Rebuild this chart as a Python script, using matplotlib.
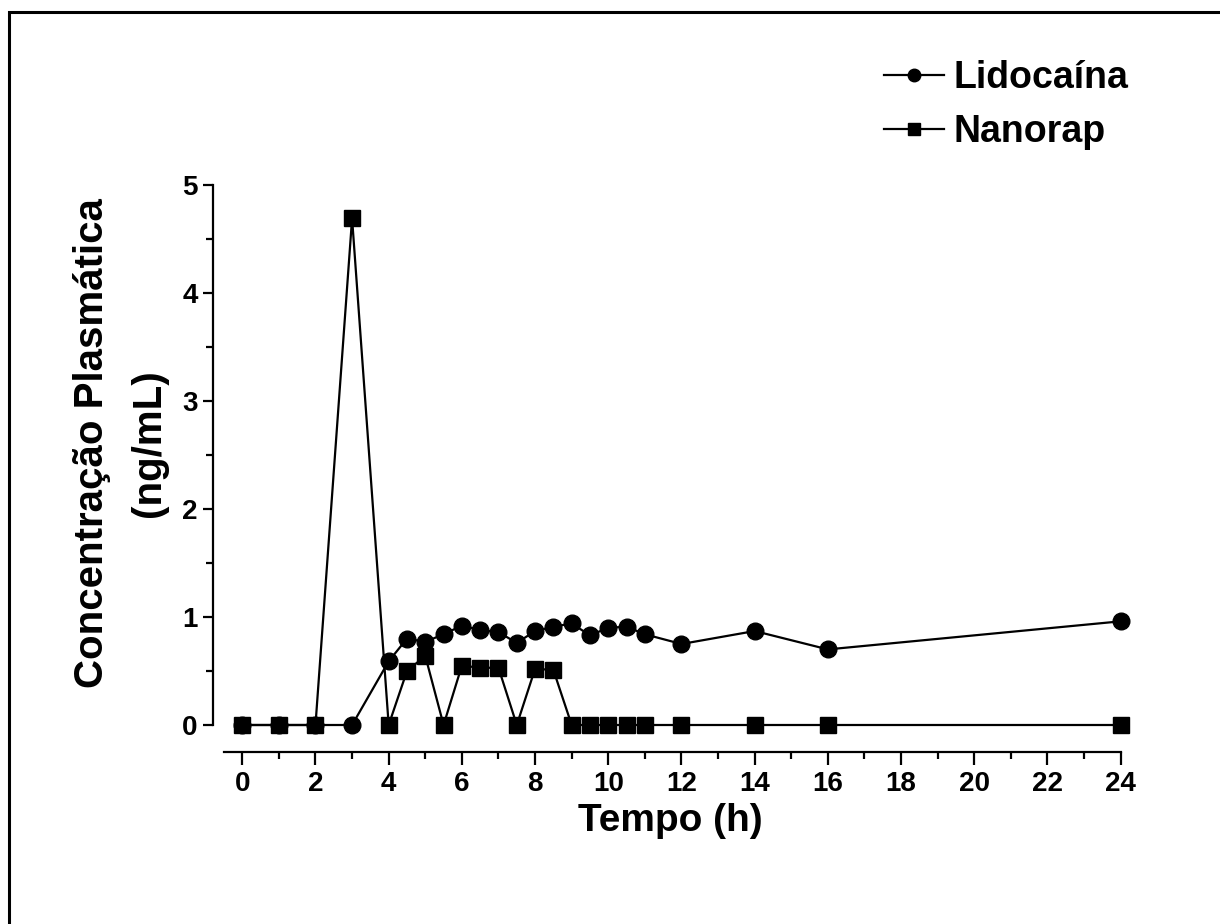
import matplotlib
matplotlib.use("Agg")
import matplotlib.pyplot as plt
from matplotlib.patches import Rectangle
from matplotlib.ticker import MultipleLocator

# --- Data ---
tempo_lido = [0, 1, 2, 3, 4, 4.5, 5, 5.5, 6, 6.5, 7, 7.5, 8, 8.5, 9, 9.5, 10, 10.5, 11, 12, 14, 16, 24]
conc_lido = [0, 0, 0, 0, 0.59, 0.80, 0.77, 0.84, 0.92, 0.88, 0.86, 0.76, 0.87, 0.91, 0.94, 0.83,
             0.90, 0.91, 0.84, 0.75, 0.87, 0.70, 0.96]

tempo_nano = [0, 1, 2, 3, 4, 4.5, 5, 5.5, 6, 6.5, 7, 7.5, 8, 8.5, 9, 9.5, 10, 10.5, 11, 12, 14, 16, 24]
conc_nano = [0, 0, 0, 4.69, 0, 0.50, 0.64, 0, 0.55, 0.53, 0.53, 0, 0.52, 0.51, 0, 0,
             0, 0, 0, 0, 0, 0, 0]

x_ticks = list(range(0, 25, 2))
y_ticks = [0, 1, 2, 3, 4, 5]

plt.rcParams["font.family"] = ["Liberation Sans", "DejaVu Sans"]
plt.rcParams["font.weight"] = "bold"

W, H = 1220, 924
fig = plt.figure(figsize=(W / 100, H / 100), dpi=100)
ax = fig.add_axes([213 / W, 1 - 752 / H, 915 / W, 567 / H])

# outer frame (right/bottom edges run off the image)
fig.patches.append(Rectangle((8.5 / W, -0.05), 1.2, 1 - 12 / H + 0.05, transform=fig.transFigure,
                             fill=False, ec="black", lw=2.2))

lw = 1.6
ax.plot(tempo_lido, conc_lido, "-o", color="black", lw=lw, ms=12, clip_on=False,
        label="Lidocaína", zorder=3)
ax.plot(tempo_nano, conc_nano, "-s", color="black", lw=lw, ms=12, clip_on=False,
        label="Nanorap", zorder=4)

ax.set_xlim(-0.8, 24.2)
ax.set_ylim(-0.25, 5)

for s in ["top", "right"]:
    ax.spines[s].set_visible(False)
ax.spines["left"].set_bounds(0, 5)
ax.spines["bottom"].set_bounds(-0.5, 24)
ax.spines["left"].set_linewidth(lw)
ax.spines["bottom"].set_linewidth(lw)

ax.set_xticks(x_ticks)
ax.set_yticks(y_ticks)
ax.xaxis.set_minor_locator(MultipleLocator(1))
ax.yaxis.set_minor_locator(MultipleLocator(0.5))
ax.tick_params(axis="x", which="major", length=9, width=lw, labelsize=20, pad=5)
ax.tick_params(axis="x", which="minor", length=5, width=lw)
ax.tick_params(axis="y", which="major", length=7, width=lw, labelsize=20, pad=4)
ax.tick_params(axis="y", which="minor", length=5, width=lw)
for lab in ax.get_xticklabels() + ax.get_yticklabels():
    lab.set_fontweight("bold")

ax.set_xlabel("Tempo (h)", fontsize=28, fontweight="bold", labelpad=4)
ax.set_ylabel("Concentração Plasmática\n(ng/mL)", fontsize=29, fontweight="bold", labelpad=10,
              linespacing=1.65)
ax.yaxis.label.set_y(0.545)

ax.legend(frameon=False, loc="upper left", bbox_to_anchor=(865 / W, 1 - 41 / H),
          bbox_transform=fig.transFigure, prop={"weight": "bold", "size": 27},
          handlelength=1.6, handletextpad=0.25, labelspacing=0.5, borderpad=0,
          markerscale=0.75)

fig.savefig("out.png", dpi=100)
